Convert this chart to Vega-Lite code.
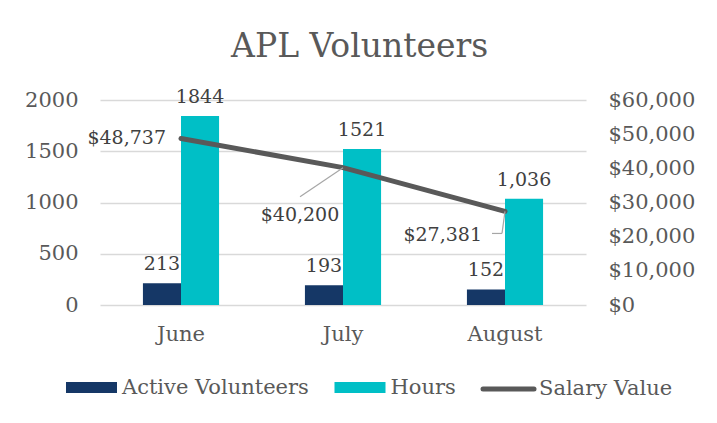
{
  "$schema": "https://vega.github.io/schema/vega-lite/v6.json",
  "width": 486,
  "height": 205,
  "autosize": {"type": "none"},
  "padding": {"left": 100, "top": 100, "right": 131, "bottom": 118},
  "background": "white",
  "title": {"text": "APL Volunteers", "fontSize": 33, "font": "DejaVu Serif", "fontWeight": "normal", "color": "#595959", "anchor": "middle", "frame": "bounds", "offset": 24},
  "datasets": {
    "bars": [
      {"month": "June", "series": "Active Volunteers", "value": 213, "label": "213"},
      {"month": "June", "series": "Hours", "value": 1844, "label": "1844"},
      {"month": "July", "series": "Active Volunteers", "value": 193, "label": "193"},
      {"month": "July", "series": "Hours", "value": 1521, "label": "1521"},
      {"month": "August", "series": "Active Volunteers", "value": 152, "label": "152"},
      {"month": "August", "series": "Hours", "value": 1036, "label": "1,036"}
    ],
    "salary": [
      {"month": "June", "salary": 48737, "label": "$48,737"},
      {"month": "July", "salary": 40200, "label": "$40,200"},
      {"month": "August", "salary": 27381, "label": "$27,381"}
    ]
  },
  "config": {
    "font": "DejaVu Serif",
    "view": {"stroke": null},
    "axis": {"labelColor": "#595959", "labelFontSize": 21, "ticks": false, "domain": false, "title": null, "gridColor": "#d9d9d9", "gridWidth": 1.5}
  },
  "layer": [
    {
      "data": {"name": "bars"},
      "layer": [
        {
          "mark": {"type": "bar"},
          "encoding": {
            "x": {"field": "month", "type": "nominal", "sort": ["June", "July", "August"], "scale": {"paddingInner": 0.53, "paddingOuter": 0.265}, "axis": {"labelAngle": 0, "labelPadding": 18, "grid": false, "labelBaseline": "top"}},
            "xOffset": {"field": "series", "type": "nominal", "sort": ["Active Volunteers", "Hours"], "scale": {"paddingInner": 0, "paddingOuter": 0}},
            "y": {"field": "value", "type": "quantitative", "scale": {"domain": [0, 2000]}, "axis": {"orient": "left", "values": [0, 500, 1000, 1500, 2000], "format": "d", "labelPadding": 22, "grid": true}},
            "color": {
              "field": "series", "type": "nominal",
              "scale": {"domain": ["Active Volunteers", "Hours", "Salary Value"], "range": ["#153766", "#00bfc6", "#595959"]},
              "legend": {
                "orient": "none", "legendX": -36.5, "legendY": 259.5, "direction": "horizontal", "title": null,
                "labelFontSize": 21, "labelColor": "#595959", "labelLimit": 400, "columnPadding": 16.5, "labelOffset": 2.5,
                "symbolSize": 2601, "symbolStrokeWidth": 5, "symbolType": "M-0.902,-0.1176H0.902V0.1176H-0.902Z",
                "encode": {
                  "symbols": {
                    "update": {
                      "shape": {"signal": "datum.label === 'Salary Value' ? 'stroke' : 'M-0.902,-0.1176H0.902V0.1176H-0.902Z'"},
                      "fill": {"signal": "datum.label === 'Salary Value' ? 'transparent' : scale('color', datum.value)"},
                      "stroke": {"signal": "scale('color', datum.value)"},
                      "strokeCap": {"value": "round"},
                      "opacity": {"value": 1}
                    }
                  }
                }
              }
            }
          }
        },
        {
          "mark": {"type": "text", "fontSize": 19, "color": "#404040", "baseline": "alphabetic", "dy": -13},
          "encoding": {
            "x": {"field": "month", "type": "nominal", "sort": ["June", "July", "August"], "scale": {"paddingInner": 0.53, "paddingOuter": 0.265}, "axis": {"labelAngle": 0, "labelPadding": 18, "grid": false, "labelBaseline": "top"}},
            "xOffset": {"field": "series", "type": "nominal", "sort": ["Active Volunteers", "Hours"], "scale": {"paddingInner": 0, "paddingOuter": 0}},
            "y": {"field": "value", "type": "quantitative", "scale": {"domain": [0, 2000]}, "axis": {"orient": "left", "values": [0, 500, 1000, 1500, 2000], "format": "d", "labelPadding": 22, "grid": true}},
            "text": {"field": "label"}
          }
        }
      ]
    },
    {
      "data": {"name": "salary"},
      "layer": [
        {
          "mark": {"type": "line", "strokeWidth": 5, "strokeCap": "round"},
          "encoding": {
            "x": {"field": "month", "type": "nominal", "sort": ["June", "July", "August"], "scale": {"paddingInner": 0.53, "paddingOuter": 0.265}, "axis": {"labelAngle": 0, "labelPadding": 18, "grid": false, "labelBaseline": "top"}},
            "y": {"field": "salary", "type": "quantitative", "scale": {"domain": [0, 60000]}, "axis": {"orient": "right", "values": [0, 10000, 20000, 30000, 40000, 50000, 60000], "format": "$,.0f", "labelPadding": 22, "grid": false}},
            "color": {"datum": "Salary Value"}
          }
        },
        {
          "transform": [{"filter": "datum.month === 'July'"}],
          "mark": {"type": "rule", "color": "#a6a6a6", "strokeWidth": 1.2, "x2Offset": -43, "y2Offset": 29},
          "encoding": {
            "x": {"field": "month", "type": "nominal", "sort": ["June", "July", "August"], "scale": {"paddingInner": 0.53, "paddingOuter": 0.265}, "axis": {"labelAngle": 0, "labelPadding": 18, "grid": false, "labelBaseline": "top"}},
            "x2": {"field": "month"},
            "y": {"field": "salary", "type": "quantitative", "scale": {"domain": [0, 60000]}, "axis": {"orient": "right", "values": [0, 10000, 20000, 30000, 40000, 50000, 60000], "format": "$,.0f", "labelPadding": 22, "grid": false}},
            "y2": {"field": "salary"}
          }
        },
        {
          "transform": [{"filter": "datum.month === 'August'"}],
          "mark": {"type": "rule", "color": "#a6a6a6", "strokeWidth": 1.2, "x2Offset": -3, "y2Offset": 22},
          "encoding": {
            "x": {"field": "month", "type": "nominal", "sort": ["June", "July", "August"], "scale": {"paddingInner": 0.53, "paddingOuter": 0.265}, "axis": {"labelAngle": 0, "labelPadding": 18, "grid": false, "labelBaseline": "top"}},
            "x2": {"field": "month"},
            "y": {"field": "salary", "type": "quantitative", "scale": {"domain": [0, 60000]}, "axis": {"orient": "right", "values": [0, 10000, 20000, 30000, 40000, 50000, 60000], "format": "$,.0f", "labelPadding": 22, "grid": false}},
            "y2": {"field": "salary"}
          }
        },
        {
          "transform": [{"filter": "datum.month === 'August'"}],
          "mark": {"type": "rule", "color": "#a6a6a6", "strokeWidth": 1.2, "xOffset": -3, "yOffset": 22, "x2Offset": -13, "y2Offset": 22},
          "encoding": {
            "x": {"field": "month", "type": "nominal", "sort": ["June", "July", "August"], "scale": {"paddingInner": 0.53, "paddingOuter": 0.265}, "axis": {"labelAngle": 0, "labelPadding": 18, "grid": false, "labelBaseline": "top"}},
            "x2": {"field": "month"},
            "y": {"field": "salary", "type": "quantitative", "scale": {"domain": [0, 60000]}, "axis": {"orient": "right", "values": [0, 10000, 20000, 30000, 40000, 50000, 60000], "format": "$,.0f", "labelPadding": 22, "grid": false}},
            "y2": {"field": "salary"}
          }
        },
        {
          "transform": [{"filter": "datum.month === 'June'"}],
          "mark": {"type": "text", "fontSize": 19, "color": "#404040", "align": "right", "baseline": "middle", "dx": -15},
          "encoding": {
            "x": {"field": "month", "type": "nominal", "sort": ["June", "July", "August"], "scale": {"paddingInner": 0.53, "paddingOuter": 0.265}, "axis": {"labelAngle": 0, "labelPadding": 18, "grid": false, "labelBaseline": "top"}},
            "y": {"field": "salary", "type": "quantitative", "scale": {"domain": [0, 60000]}, "axis": {"orient": "right", "values": [0, 10000, 20000, 30000, 40000, 50000, 60000], "format": "$,.0f", "labelPadding": 22, "grid": false}},
            "text": {"field": "label"}
          }
        },
        {
          "transform": [{"filter": "datum.month === 'July'"}],
          "mark": {"type": "text", "fontSize": 19, "color": "#404040", "align": "center", "baseline": "middle", "dx": -43, "dy": 47},
          "encoding": {
            "x": {"field": "month", "type": "nominal", "sort": ["June", "July", "August"], "scale": {"paddingInner": 0.53, "paddingOuter": 0.265}, "axis": {"labelAngle": 0, "labelPadding": 18, "grid": false, "labelBaseline": "top"}},
            "y": {"field": "salary", "type": "quantitative", "scale": {"domain": [0, 60000]}, "axis": {"orient": "right", "values": [0, 10000, 20000, 30000, 40000, 50000, 60000], "format": "$,.0f", "labelPadding": 22, "grid": false}},
            "text": {"field": "label"}
          }
        },
        {
          "transform": [{"filter": "datum.month === 'August'"}],
          "mark": {"type": "text", "fontSize": 19, "color": "#404040", "align": "right", "baseline": "middle", "dx": -23, "dy": 24},
          "encoding": {
            "x": {"field": "month", "type": "nominal", "sort": ["June", "July", "August"], "scale": {"paddingInner": 0.53, "paddingOuter": 0.265}, "axis": {"labelAngle": 0, "labelPadding": 18, "grid": false, "labelBaseline": "top"}},
            "y": {"field": "salary", "type": "quantitative", "scale": {"domain": [0, 60000]}, "axis": {"orient": "right", "values": [0, 10000, 20000, 30000, 40000, 50000, 60000], "format": "$,.0f", "labelPadding": 22, "grid": false}},
            "text": {"field": "label"}
          }
        }
      ]
    }
  ],
  "resolve": {"scale": {"y": "independent"}}
}
